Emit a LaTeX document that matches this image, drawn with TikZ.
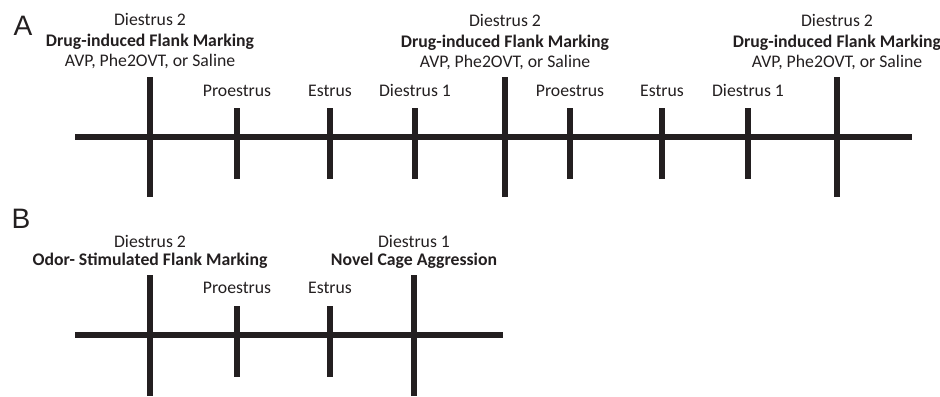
\documentclass[tikz,border=0pt]{standalone}
\usepackage{fontspec}
\setmainfont{Carlito}
\newfontfamily\letterfont{Liberation Sans}
\definecolor{ink}{HTML}{231F20}

\begin{document}
\begin{tikzpicture}[x=0.025cm,y=-0.025cm,
  axis/.style={ink,line width=4.3pt},
  tick/.style={ink,line width=3.6pt},
  lbl/.style={anchor=base,inner sep=0pt,text=ink,font=\fontsize{12.6}{15}\selectfont},
  blbl/.style={lbl,font=\fontsize{12.6}{15}\selectfont\bfseries},
  panel/.style={anchor=base,inner sep=0pt,text=ink,font=\letterfont\fontsize{20}{24}\selectfont}]
\useasboundingbox (0,0) rectangle (940,396);


% Part A: Drug-induced flank marking


% Panel letter
\node[panel] (A) at (23,35) {A};

% Timeline
\coordinate (aL) at (75,137);
\coordinate (aR) at (912,137);
\draw[axis] (aL) -- (aR);

% Long ticks and test labels (Diestrus 2)
\foreach \n/\x/\y in {dA/150/25, dB/505/26, dC/837/26}{
  \coordinate (\n-top) at (\x,77);
  \coordinate (\n-bot) at (\x,197);
  \draw[tick] (\n-top) -- (\n-bot);
  \node[lbl]  (\n-day)  at (\x,\y)    {Diestrus 2};
  \node[blbl] (\n-test) at (\x,\y+21) {Drug-induced Flank Marking};
  \node[lbl]  (\n-drug) at (\x,\y+41) {AVP, Phe2OVT, or Saline};
}

% Short ticks and stage labels
\foreach \n/\x/\t in {pA/237/Proestrus, eA/330/Estrus, iA/415/Diestrus 1,
                      pB/570/Proestrus, eB/662/Estrus, iB/748/Diestrus 1}{
  \coordinate (\n-top) at (\x,108);
  \coordinate (\n-bot) at (\x,179);
  \draw[tick] (\n-top) -- (\n-bot);
  \node[lbl] (\n-day) at (\x,96) {\t};
}


% Part B: Odor-stimulated marking and aggression


% Panel letter
\node[panel] (B) at (21,228) {B};

% Timeline
\coordinate (bL) at (75,335);
\coordinate (bR) at (503,335);
\draw[axis] (bL) -- (bR);

% Long ticks
\coordinate (oA-top) at (150,275);
\coordinate (oA-bot) at (150,396);
\draw[tick] (oA-top) -- (oA-bot);
\coordinate (oB-top) at (414,275);
\coordinate (oB-bot) at (414,396);
\draw[tick] (oB-top) -- (oB-bot);

% Test labels
\node[lbl]  (oA-day)  at (150,247) {Diestrus 2};
\node[blbl] (oA-test) at (150,265) {Odor- Stimulated Flank Marking};
\node[lbl]  (oB-day)  at (414,247) {Diestrus 1};
\node[blbl] (oB-test) at (414,265) {Novel Cage Aggression};

% Short ticks and stage labels
\foreach \n/\x/\t in {pC/237/Proestrus, eC/330/Estrus}{
  \coordinate (\n-top) at (\x,306);
  \coordinate (\n-bot) at (\x,377);
  \draw[tick] (\n-top) -- (\n-bot);
  \node[lbl] (\n-day) at (\x,293) {\t};
}

\end{tikzpicture}
\end{document}
